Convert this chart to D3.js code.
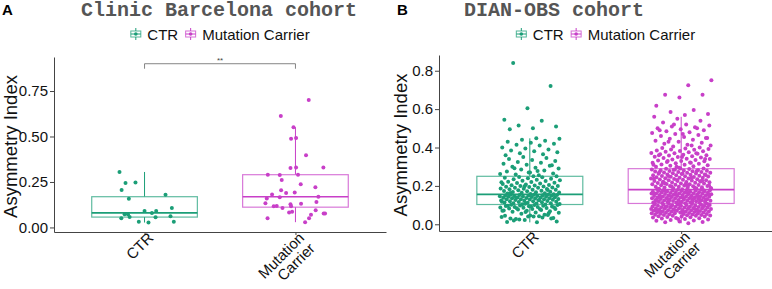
<!DOCTYPE html>
<html>
<head>
<meta charset="utf-8">
<script src="https://cdn.jsdelivr.net/npm/d3@7"></script>
<style>
  body { margin: 0; background: #fff; }
  svg { display: block; font-family: 'Liberation Sans', Arial, sans-serif; }
</style>
</head>
<body>
<div id="chart"></div>
<script>
const groups = ['CTR', 'Mutation Carrier'];
const groupLabels = [['CTR'], ['Mutation', 'Carrier']];
const yTicksA = [0, 0.25, 0.5, 0.75];
const yTicksB = [0, 0.2, 0.4, 0.6, 0.8];

// Panel A, Clinic Barcelona cohort (values, jitter as fraction of category step)
const ctrA = [0.305, 0.245, 0.247, 0.206, 0.158, 0.18, 0.091, 0.091, 0.08, 0.107,
  0.073, 0.073, 0.058, 0.051, 0.056, 0.062, 0.031, 0.027, 0.031];
const ctrJitterA = [-0.166, -0.126, -0.06, -0.152, -0.104, 0.139, 0, 0.077, 0.049, 0.181,
  -0.132, -0.11, -0.099, -0.154, 0.073, 0.172, -0.038, 0.026, 0.194];
const mutA = [0.70, 0.613, 0.551, 0.488, 0.492, 0.397, 0.327, 0.33, 0.33, 0.29,
  0.289, 0.29, 0.261, 0.237, 0.221, 0.205, 0.192, 0.19, 0.181, 0.166,
  0.159, 0.169, 0.133, 0.14, 0.116, 0.118, 0.107, 0.128, 0.116, 0.13,
  0.082, 0.086, 0.095, 0.077, 0.077, 0.051, 0.07, 0.05, 0.029];
const mutJitterA = [0.088, -0.097, -0.013, -0.029, 0.004, 0.07, -0.033, 0.004, 0.185, -0.183,
  -0.104, 0.017, -0.091, 0.035, 0.132, -0.095, -0.005, -0.062, -0.155, -0.104,
  -0.19, 0.152, -0.199, 0.139, -0.144, -0.124, -0.086, -0.033, -0.029, 0.037,
  -0.042, -0.022, 0.134, 0.187, 0.196, -0.185, 0.103, 0.09, 0.064];

// Panel B, DIAN-OBS cohort
const ctrB = [
  0.01, 0.02, 0.03, 0.04, 0.045, 0.035, 0.025, 0.015, 0.04, 0.03, 0.048, 0.022, 0.038, 0.042, 0.027, 0.033, 0.046, 0.012,
  0.05, 0.055, 0.06, 0.062, 0.065, 0.068, 0.07, 0.072, 0.075, 0.077, 0.08, 0.08, 0.082, 0.085, 0.086, 0.088, 0.09, 0.09,
  0.092, 0.094, 0.095, 0.096, 0.098, 0.1, 0.1, 0.102, 0.058, 0.064, 0.071, 0.079, 0.083, 0.087, 0.093, 0.097, 0.103,
  0.105, 0.106, 0.108, 0.11, 0.11, 0.112, 0.113, 0.115, 0.116, 0.118, 0.12, 0.12, 0.121, 0.122, 0.124, 0.125, 0.126,
  0.128, 0.129, 0.13, 0.13, 0.131, 0.132, 0.134, 0.135, 0.136, 0.137, 0.138, 0.14, 0.14, 0.141, 0.142, 0.143, 0.144,
  0.145, 0.146, 0.147, 0.148, 0.149, 0.15, 0.15, 0.151, 0.152, 0.153, 0.154, 0.155, 0.155, 0.107, 0.117, 0.127, 0.139, 0.156,
  0.158, 0.16, 0.162, 0.164, 0.165, 0.167, 0.168, 0.17, 0.172, 0.174, 0.175, 0.177, 0.18, 0.18, 0.182, 0.184, 0.185,
  0.187, 0.19, 0.19, 0.192, 0.194, 0.195, 0.197, 0.2, 0.2, 0.202, 0.204, 0.205, 0.207, 0.21, 0.212, 0.215, 0.217, 0.22,
  0.222, 0.225, 0.227, 0.23, 0.232, 0.235, 0.237, 0.24, 0.242, 0.245, 0.247, 0.25, 0.25, 0.163, 0.179, 0.198, 0.219,
  0.255, 0.26, 0.265, 0.27, 0.275, 0.28, 0.285, 0.29, 0.295, 0.3, 0.305, 0.31, 0.315, 0.32, 0.325, 0.33, 0.335, 0.34,
  0.345, 0.35, 0.262, 0.278, 0.292, 0.308, 0.27,
  0.36, 0.365, 0.37, 0.375, 0.38, 0.385, 0.39, 0.395, 0.4, 0.41, 0.415, 0.42, 0.425, 0.43, 0.435, 0.44, 0.445, 0.448,
  0.84, 0.72, 0.605, 0.545, 0.54, 0.515, 0.51, 0.50, 0.495
];
const mutB = [
  0.005, 0.01, 0.012, 0.015, 0.018, 0.02, 0.022, 0.025, 0.027, 0.03, 0.031, 0.033, 0.035, 0.036, 0.038, 0.04, 0.041,
  0.042, 0.044, 0.045, 0.046, 0.047, 0.048, 0.049, 0.028,
  0.05, 0.051, 0.052, 0.053, 0.054, 0.055, 0.056, 0.057, 0.058, 0.059, 0.06, 0.061, 0.062, 0.063, 0.064, 0.065, 0.066,
  0.067, 0.068, 0.069, 0.07, 0.071, 0.072, 0.073, 0.074, 0.075, 0.076, 0.077, 0.078, 0.079, 0.08, 0.081, 0.082, 0.083,
  0.084, 0.085, 0.086, 0.087, 0.088, 0.089, 0.09, 0.091, 0.092, 0.093, 0.094, 0.095, 0.096, 0.097, 0.098, 0.099, 0.1,
  0.101, 0.102, 0.103, 0.104, 0.105, 0.106, 0.107, 0.108, 0.06, 0.065, 0.07, 0.075, 0.08, 0.085, 0.09, 0.095, 0.1,
  0.072, 0.083, 0.094, 0.105,
  0.11, 0.111, 0.112, 0.113, 0.114, 0.115, 0.116, 0.117, 0.118, 0.119, 0.12, 0.121, 0.122, 0.123, 0.124, 0.125, 0.126,
  0.127, 0.128, 0.129, 0.13, 0.131, 0.132, 0.133, 0.134, 0.135, 0.136, 0.137, 0.138, 0.139, 0.14, 0.141, 0.142, 0.143,
  0.144, 0.145, 0.146, 0.147, 0.148, 0.149, 0.15, 0.151, 0.152, 0.153, 0.154, 0.155, 0.156, 0.157, 0.158, 0.159, 0.16,
  0.161, 0.162, 0.163, 0.164, 0.165, 0.166, 0.167, 0.168, 0.169, 0.17, 0.171, 0.172, 0.173, 0.174, 0.175, 0.176, 0.177,
  0.178, 0.179, 0.18, 0.181, 0.112, 0.118, 0.124, 0.131, 0.137, 0.143, 0.149, 0.155, 0.161, 0.167, 0.173, 0.179, 0.115,
  0.125, 0.135, 0.145, 0.155, 0.165, 0.175, 0.128, 0.152, 0.162, 0.142, 0.132, 0.122,
  0.183, 0.185, 0.186, 0.188, 0.189, 0.19, 0.192, 0.193, 0.195, 0.196, 0.198, 0.199, 0.2, 0.202, 0.203, 0.205, 0.206,
  0.208, 0.209, 0.21, 0.212, 0.213, 0.215, 0.216, 0.218, 0.219, 0.22, 0.222, 0.223, 0.225, 0.226, 0.228, 0.229, 0.23,
  0.232, 0.233, 0.235, 0.236, 0.238, 0.239, 0.24, 0.242, 0.243, 0.245, 0.246, 0.248, 0.249, 0.25, 0.252, 0.253, 0.255,
  0.256, 0.258, 0.259, 0.26, 0.262, 0.263, 0.265, 0.266, 0.268, 0.269, 0.27, 0.272, 0.273, 0.275, 0.276, 0.278, 0.279,
  0.28, 0.282, 0.283, 0.285, 0.286, 0.288, 0.289, 0.29, 0.291, 0.184, 0.191, 0.197, 0.204, 0.211, 0.217, 0.224, 0.231,
  0.237, 0.244, 0.251, 0.257, 0.264, 0.271, 0.277, 0.284, 0.187, 0.201, 0.214, 0.227,
  0.295, 0.3, 0.302, 0.305, 0.308, 0.31, 0.312, 0.315, 0.318, 0.32, 0.322, 0.325, 0.328, 0.33, 0.332, 0.335, 0.338,
  0.34, 0.342, 0.345, 0.348, 0.35, 0.352, 0.355, 0.358, 0.36, 0.362, 0.365, 0.368, 0.37, 0.372, 0.375, 0.378, 0.38,
  0.382, 0.385, 0.388, 0.39, 0.392, 0.395, 0.398, 0.4, 0.3, 0.31, 0.32, 0.33, 0.34, 0.35, 0.36, 0.37,
  0.405, 0.41, 0.415, 0.42, 0.425, 0.43, 0.435, 0.44, 0.445, 0.45, 0.455, 0.46, 0.465, 0.47, 0.475, 0.48, 0.485, 0.49,
  0.495, 0.5, 0.505, 0.51, 0.515, 0.52, 0.53, 0.54, 0.55, 0.56, 0.41, 0.43, 0.45, 0.47, 0.49, 0.5, 0.52,
  0.75, 0.725, 0.675, 0.675, 0.66, 0.618, 0.595, 0.585, 0.575, 0.57
];

const COLORS = ['#1b9e77', '#c83fc8'];
const W = 772, H = 289;

const svg = d3.select('#chart').append('svg').attr('width', W).attr('height', H);

// golden-ratio spread for dense clouds where individual jitter can't be read
const spread = (i) => (((i + 1) * 0.6180339887) % 1 - 0.5) * 0.4;

function boxStats(vals) {
  const s = vals.slice().sort(d3.ascending);
  const q1 = d3.quantile(s, 0.25), med = d3.quantile(s, 0.5), q3 = d3.quantile(s, 0.75);
  const iqr = q3 - q1;
  const lo = d3.min(s.filter((v) => v >= q1 - 1.5 * iqr));
  const hi = d3.max(s.filter((v) => v <= q3 + 1.5 * iqr));
  return { q1, med, q3, lo, hi };
}

function legend(g, cx, cy) {
  // key glyph + label, measured so the pair is centred
  const items = g.append('g');
  let xpos = 0;
  groups.forEach((name, i) => {
    const k = items.append('g').attr('transform', `translate(${xpos},0)`);
    k.append('line').attr('x1', 5.5).attr('x2', 5.5).attr('y1', -6).attr('y2', 6)
      .attr('stroke', COLORS[i]).attr('stroke-width', 1);
    k.append('rect').attr('x', 0.5).attr('y', -3).attr('width', 10).attr('height', 6)
      .attr('fill', '#fff').attr('stroke', COLORS[i]).attr('stroke-opacity', 0.75);
    k.append('line').attr('x1', 0.5).attr('x2', 10.5).attr('y1', 0).attr('y2', 0)
      .attr('stroke', COLORS[i]);
    k.append('circle').attr('cx', 5.5).attr('cy', 0).attr('r', 1.8).attr('fill', COLORS[i]);
    const t = items.append('text').attr('x', xpos + 17).attr('y', 5.5)
      .attr('font-size', 15).attr('fill', '#111').text(name);
    xpos += 17 + t.node().getComputedTextLength() + 7;
  });
  const w = xpos - 7;
  items.attr('transform', `translate(${cx - w / 2},${cy})`);
}

function panel(cfg) {
  const x = d3.scaleLinear().domain([0.4, 2.6]).range([cfg.x0, cfg.x1]);
  const y = d3.scaleLinear().domain(cfg.yDomain).range([cfg.yBottom, cfg.yTop]);
  const g = svg.append('g');

  // panel tag + title
  g.append('text').attr('x', cfg.tagX).attr('y', 15).attr('font-size', 15)
    .attr('font-weight', 'bold').attr('fill', '#000').text(cfg.tag);
  g.append('text').attr('x', cfg.titleX).attr('y', 16).attr('text-anchor', 'middle')
    .attr('font-family', "'Liberation Mono', 'Courier New', monospace")
    .attr('font-weight', 'bold').attr('font-size', 20).attr('fill', '#555').text(cfg.title);

  legend(g, (cfg.x0 + cfg.x1) / 2, 34);

  // axes
  g.append('g').attr('transform', `translate(${cfg.x0},0)`)
    .call(d3.axisLeft(y).tickValues(cfg.ticks).tickFormat(d3.format(cfg.fmt))
      .tickSize(4).tickSizeOuter(0).tickPadding(2))
    .call((s) => s.select('.domain').attr('stroke', '#444'))
    .call((s) => s.selectAll('.tick line').attr('stroke', '#444'))
    .call((s) => s.selectAll('.tick text').attr('font-size', 15).attr('fill', '#111')
      .attr('font-family', "'Liberation Sans', Arial, sans-serif"));
  g.append('g').attr('transform', `translate(0,${cfg.yBottom})`)
    .call(d3.axisBottom(x).tickValues([1, 2]).tickFormat('').tickSize(3).tickSizeOuter(0))
    .call((s) => s.select('.domain').attr('stroke', '#444'))
    .call((s) => s.selectAll('.tick line').attr('stroke', '#444'));

  // rotated category labels
  groupLabels.forEach((lines, i) => {
    const t = g.append('text')
      .attr('transform', `translate(${x(i + 1) + 2},${cfg.yBottom - 1}) rotate(-45)`)
      .attr('text-anchor', 'end').attr('font-size', 15).attr('fill', '#111');
    lines.forEach((ln, j) => {
      t.append('tspan').attr('x', 0).attr('y', 11 + j * 15).text(ln);
    });
  });

  // y title
  g.append('text')
    .attr('transform', `translate(${cfg.yLabelX},${(cfg.yTop + cfg.yBottom) / 2 + 2}) rotate(-90)`)
    .attr('text-anchor', 'middle').attr('font-size', 18.5).attr('fill', '#111')
    .text('Asymmetry Index');

  // boxes + points
  const half = 0.35;
  cfg.series.forEach((vals, i) => {
    const c = i + 1, col = COLORS[i];
    const b = boxStats(vals);
    g.append('line').attr('x1', x(c)).attr('x2', x(c)).attr('y1', y(b.hi)).attr('y2', y(b.q3))
      .attr('stroke', col);
    g.append('line').attr('x1', x(c)).attr('x2', x(c)).attr('y1', y(b.q1)).attr('y2', y(b.lo))
      .attr('stroke', col);
    g.append('rect').attr('x', x(c - half)).attr('y', y(b.q3))
      .attr('width', x(c + half) - x(c - half)).attr('height', y(b.q1) - y(b.q3))
      .attr('fill', '#fff').attr('stroke', col).attr('stroke-opacity', 0.7).attr('stroke-width', 1.2);
    g.append('line').attr('x1', x(c - half)).attr('x2', x(c + half))
      .attr('y1', y(b.med)).attr('y2', y(b.med)).attr('stroke', col).attr('stroke-width', 1.6);

    const jit = cfg.jitter[i];
    g.append('g').selectAll('circle').data(vals).enter().append('circle')
      .attr('cx', (d, k) => x(c + (jit ? jit[k] : spread(k))))
      .attr('cy', (d) => y(d))
      .attr('r', 2).attr('fill', col);
  });

  // significance bracket
  if (cfg.sig) {
    const by = y(cfg.sig.y);
    g.append('path')
      .attr('d', `M${x(1)},${by + 5}V${by}H${x(2)}V${by + 5}`)
      .attr('fill', 'none').attr('stroke', '#666').attr('stroke-width', 0.8);
    g.append('text').attr('x', (x(1) + x(2)) / 2).attr('y', by - 1)
      .attr('text-anchor', 'middle').attr('font-size', 8).attr('fill', '#444').text(cfg.sig.label);
  }
}

panel({
  tag: 'A', tagX: 2, title: 'Clinic Barcelona cohort', titleX: 219,
  x0: 54, x1: 386, yTop: 57, yBottom: 232, yDomain: [-0.025, 0.937],
  ticks: yTicksA, fmt: '.2f', yLabelX: 16.8,
  series: [ctrA, mutA], jitter: [ctrJitterA, mutJitterA],
  sig: { y: 0.90, label: '**' }
});

panel({
  tag: 'B', tagX: 397, title: 'DIAN-OBS cohort', titleX: 554,
  x0: 439, x1: 772, yTop: 55, yBottom: 231, yDomain: [-0.035, 0.882],
  ticks: yTicksB, fmt: '.1f', yLabelX: 407,
  series: [ctrB, mutB], jitter: [null, null]
});
</script>
</body>
</html>
